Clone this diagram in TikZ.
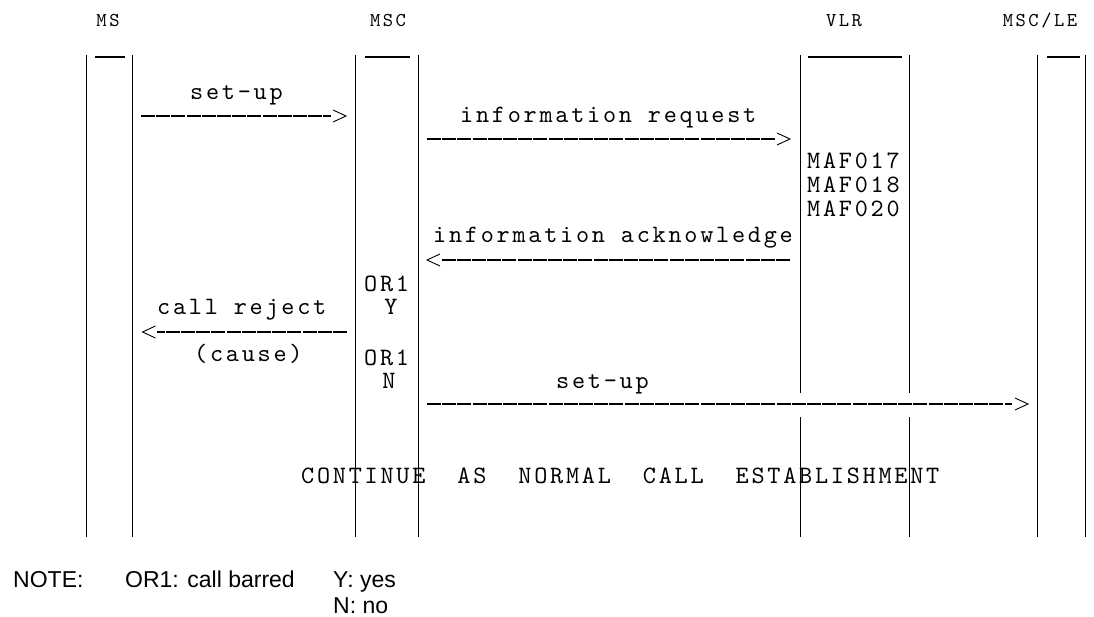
\documentclass[tikz,border=0pt]{standalone}
\usepackage{fontspec}
\setmainfont{Liberation Sans}
\newfontfamily\monoff[LetterSpace=11]{lmmono10-regular.otf}
\newfontfamily\headff[LetterSpace=12.8]{lmmono10-regular.otf}
\newcommand\monof{\monoff\fontsize{25}{25}\selectfont}
\newcommand\headf{\headff\fontsize{19.6}{20}\selectfont}
\newcommand\gap{\hspace*{32pt}}
\begin{document}
\begin{tikzpicture}[x=1pt,y=-1pt,
  life/.style={line width=1pt},
  topbar/.style={line width=1.2pt},
  msg/.style={line width=1.8pt, dash pattern=on 14pt off 1.2pt},
  lbl/.style={inner sep=0pt, anchor=base west, font=\monof},
  clbl/.style={inner sep=0pt, anchor=base, font=\monof},
  hdr/.style={inner sep=0pt, anchor=base, font=\headf},
  notetxt/.style={inner sep=0pt, anchor=base west, font=\fontsize{23}{23}\selectfont},
  rhead/.pic={\draw[line width=0.9pt] (-6.5,-6) -- (6.5,0) -- (-6.5,6);},
  lhead/.pic={\draw[line width=0.9pt] (6.5,-6) -- (-6.5,0) -- (6.5,6);}
]
\useasboundingbox (0,0) rectangle (1094,617);

% headers
\node[hdr] (hMS)   at (108,27)  {MS};
\node[hdr] (hMSC)  at (388,27)  {MSC};
\node[hdr] (hVLR)  at (844,27)  {VLR};
\node[hdr] (hLE)   at (1040,27) {MSC/LE};

% lifelines
\foreach \n/\x in {a/86,b/132,c/355,d/418,g/1037,h/1085}{
  \coordinate (\n t) at (\x,55);
  \coordinate (\n b) at (\x,537);
  \draw[life] (\n t) -- (\n b);
}
\foreach \n/\x in {e/800,f/909}{
  \coordinate (\n t) at (\x,55);
  \coordinate (\n m1) at (\x,393);
  \coordinate (\n m2) at (\x,417);
  \coordinate (\n b) at (\x,537);
  \draw[life] (\n t) -- (\n m1);
  \draw[life] (\n m2) -- (\n b);
}
% top bars
\foreach \n/\xa/\xb in {p/95/125,q/365/410,r/808/902,s/1047/1080}{
  \coordinate (\n1) at (\xa,57);
  \coordinate (\n2) at (\xb,57);
  \draw[topbar] (\n1) -- (\n2);
}

% set-up (MS -> MSC)
\node[lbl] (t1) at (190,100) {set-up};
\coordinate (m1s) at (141,116);
\coordinate (m1e) at (331,116);
\draw[msg] (m1s) -- (m1e);
\pic at (339.5,116) {rhead};

% information request
\node[lbl] (t2) at (460,123) {information request};
\coordinate (m2s) at (427,139);
\coordinate (m2e) at (775,139);
\draw[msg] (m2s) -- (m2e);
\pic at (783.5,139) {rhead};

% MAF
\node[lbl] (maf1) at (807,169) {MAF017};
\node[lbl] (maf2) at (807,193) {MAF018};
\node[lbl] (maf3) at (807,217) {MAF020};

% information acknowledge
\node[lbl] (t3) at (433,243) {information acknowledge};
\coordinate (m3s) at (790,260);
\coordinate (m3e) at (442,260);
\draw[msg] (m3s) -- (m3e);
\pic at (433.5,260) {lhead};

% OR1 / Y
\node[lbl] (or1) at (364,292) {OR1};
\node[clbl] (yy) at (391,315) {Y};

% call reject
\node[lbl] (t4) at (157,315) {call reject};
\coordinate (m4s) at (347,332);
\coordinate (m4e) at (157,332);
\draw[msg] (m4s) -- (m4e);
\pic at (149,332) {lhead};
\node[lbl] (cause) at (194,361) {(cause)};

% OR1 / N
\node[lbl] (or2) at (364,365) {OR1};
\node[clbl] (nn) at (389,388) {N};

% set-up (MSC -> MSC/LE)
\node[lbl] (t5) at (556,388) {set-up};
\coordinate (m5s) at (427,404);
\coordinate (m5e) at (1012,404);
\draw[msg] (m5s) -- (m5e);
\pic at (1021.5,404) {rhead};

% continue
\node[lbl] (cont) at (301,483) {CONTINUE\gap AS\gap NORMAL\gap CALL\gap ESTABLISHMENT};

% note
\node[notetxt] (n1) at (13,587) {NOTE:};
\node[notetxt] (n2) at (125,587) {OR1: call barred};
\node[notetxt] (n3) at (333,587) {Y: yes};
\node[notetxt] (n4) at (333,613) {N: no};
\end{tikzpicture}
\end{document}
